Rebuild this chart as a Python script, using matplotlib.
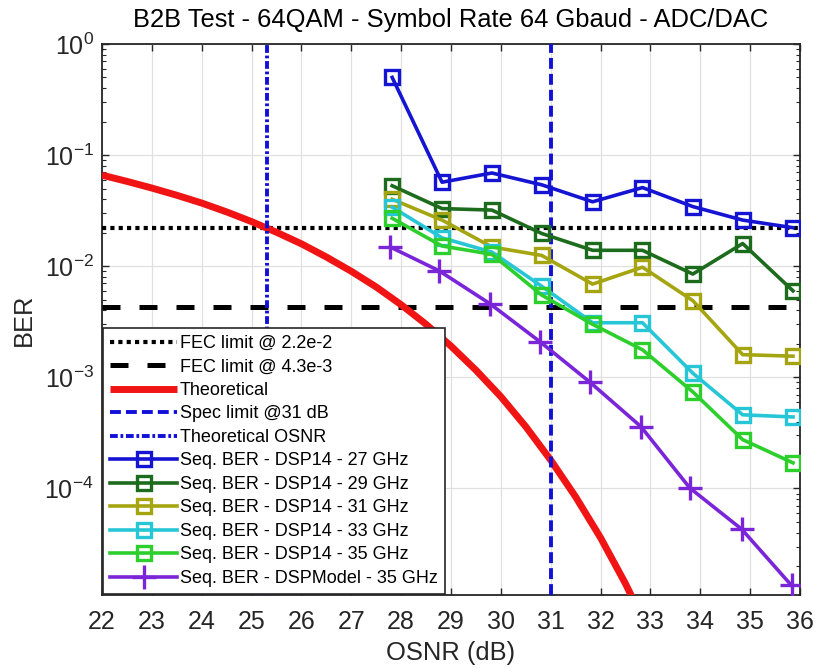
import matplotlib
matplotlib.use("Agg")
import matplotlib.pyplot as plt
from matplotlib.ticker import LogLocator, FixedLocator, NullFormatter

# ---------------- data ----------------
osnr_limits = [22, 36]
ber_limits = [1.1e-5, 1.0]
osnr_ticks = [22, 23, 24, 25, 26, 27, 28, 29, 30, 31, 32, 33, 34, 35, 36]

fec_hd = 2.2e-2
fec_sd = 4.3e-3
spec_osnr = 31.0
theory_osnr_limit = 25.3

theory_osnr = [22, 22.5, 23, 23.5, 24, 24.5, 25, 25.5, 26, 26.5, 27, 27.5,
               28, 28.5, 29, 29.5, 30, 30.5, 31, 31.5, 32, 32.5, 33]
theory_ber = [6.6e-2, 5.8e-2, 5.05e-2, 4.35e-2, 3.7e-2, 3.08e-2, 2.52e-2,
              2.02e-2, 1.59e-2, 1.21e-2, 9.0e-3, 6.5e-3, 4.5e-3, 3.0e-3,
              1.91e-3, 1.16e-3, 6.7e-4, 3.6e-4, 1.8e-4, 8.4e-5, 3.6e-5,
              1.39e-5, 4.8e-6]

osnr_meas = [27.82, 28.82, 29.82, 30.82, 31.84, 32.84, 33.85, 34.85, 35.86]
ber_27ghz = [0.50, 0.057, 0.069, 0.054, 0.038, 0.051, 0.0344, 0.026, 0.0222]
ber_29ghz = [0.053, 0.033, 0.032, 0.0197, 0.0139, 0.0139, 0.0085, 0.016, 0.0060]
ber_31ghz = [0.040, 0.026, 0.0149, 0.0125, 0.0069, 0.0098, 0.0049, 0.0016, 0.00155]
ber_33ghz = [0.034, 0.018, 0.0134, 0.0066, 0.0031, 0.0031, 0.00109, 4.6e-4, 4.4e-4]
ber_35ghz = [0.027, 0.0152, 0.0128, 0.0055, 0.0030, 0.00177, 7.4e-4, 2.75e-4, 1.7e-4]

osnr_model = [27.78, 28.76, 29.78, 30.78, 31.78, 32.81, 33.79, 34.83, 35.83]
ber_model = [0.0149, 0.0091, 0.0046, 0.0021, 9.1e-4, 3.6e-4, 1.01e-4, 4.3e-5, 1.34e-5]

labels = ["FEC limit @ 2.2e-2", "FEC limit @ 4.3e-3", "Theoretical",
          "Spec limit @31 dB", "Theoretical OSNR",
          "Seq. BER - DSP14 - 27 GHz", "Seq. BER - DSP14 - 29 GHz",
          "Seq. BER - DSP14 - 31 GHz", "Seq. BER - DSP14 - 33 GHz",
          "Seq. BER - DSP14 - 35 GHz", "Seq. BER - DSPModel - 35 GHz"]

series_colors = ["#1414d2", "#1d6b1d", "#a5a512", "#26c6d6", "#2dcf2d", "#7a26d8"]

# ---------------- fonts ----------------
fam = ["Liberation Sans", "DejaVu Sans"]
plt.rcParams["font.family"] = fam
plt.rcParams["mathtext.fontset"] = "custom"
plt.rcParams["mathtext.rm"] = fam[0]
plt.rcParams["mathtext.it"] = fam[0]
plt.rcParams["mathtext.default"] = "regular"

txt = "#262626"

fig = plt.figure(figsize=(8.18, 6.68), dpi=100)
ax = fig.add_axes([0.1247, 0.1093, 0.8533, 0.8249])

ax.axhline(fec_hd, color="black", lw=3.0, linestyle=(0, (1, 1)),
           dash_capstyle="butt", label=labels[0], zorder=3)
ax.axhline(fec_sd, color="black", lw=3.6, linestyle=(0, (3.6, 3.8)),
           dash_capstyle="butt", label=labels[1], zorder=3)
ax.plot(theory_osnr, theory_ber, color="#f01414", lw=5, label=labels[2],
        zorder=3, solid_capstyle="butt")
ax.axvline(spec_osnr, color="#1010d8", lw=2.8, linestyle=(0, (2.8, 1.3)),
           dash_capstyle="butt", label=labels[3], zorder=3)
ax.axvline(theory_osnr_limit, color="#1010d8", lw=2.8,
           linestyle=(0, (2.0, 0.7, 0.7, 0.7)), dash_capstyle="butt",
           label=labels[4], zorder=3)

meas = [ber_27ghz, ber_29ghz, ber_31ghz, ber_33ghz, ber_35ghz]
for i, ys in enumerate(meas):
    ax.plot(osnr_meas, ys, color=series_colors[i], lw=2.6, marker="s",
            ms=10, mew=2.4, mfc="none", mec=series_colors[i],
            label=labels[5 + i], zorder=4)
ax.plot(osnr_model, ber_model, color=series_colors[5], lw=2.6, marker="+",
        ms=17, mew=2.4, label=labels[10], zorder=4)

ax.set_yscale("log")
ax.set_xlim(osnr_limits)
ax.set_ylim(ber_limits)
ax.xaxis.set_major_locator(FixedLocator(osnr_ticks))
ax.yaxis.set_major_locator(LogLocator(base=10, numticks=12))
ax.yaxis.set_minor_locator(LogLocator(base=10, subs=range(2, 10), numticks=12))
ax.yaxis.set_minor_formatter(NullFormatter())

ax.grid(True, which="major", color="#e0e0e0", lw=0.9)
ax.set_axisbelow(True)
ax.tick_params(which="both", direction="in", top=True, right=True,
               colors=txt, labelsize=18)
ax.tick_params(which="major", length=5, width=1.0)
ax.tick_params(axis="x", which="major", pad=11)
ax.tick_params(axis="y", which="major", pad=6)
ax.tick_params(which="minor", length=3, width=0.8)
for s in ax.spines.values():
    s.set_color(txt)
    s.set_linewidth(1.3)

ax.set_title("B2B Test - 64QAM - Symbol Rate 64 Gbaud - ADC/DAC",
             fontsize=18.4, color="black", pad=12)
ax.set_xlabel("OSNR (dB)", fontsize=18.4, color=txt, labelpad=5)
ax.set_ylabel("BER", fontsize=18.4, color=txt, labelpad=6)

leg = ax.legend(loc="lower left", bbox_to_anchor=(0, 0), borderaxespad=0.05,
                fontsize=13, handlelength=3.7, handletextpad=0.15,
                labelspacing=0.36, borderpad=0.4, fancybox=False,
                framealpha=1, edgecolor="#262626")
leg.get_frame().set_linewidth(1.2)
leg.set_zorder(10)

fig.savefig("out.png", dpi=100)
